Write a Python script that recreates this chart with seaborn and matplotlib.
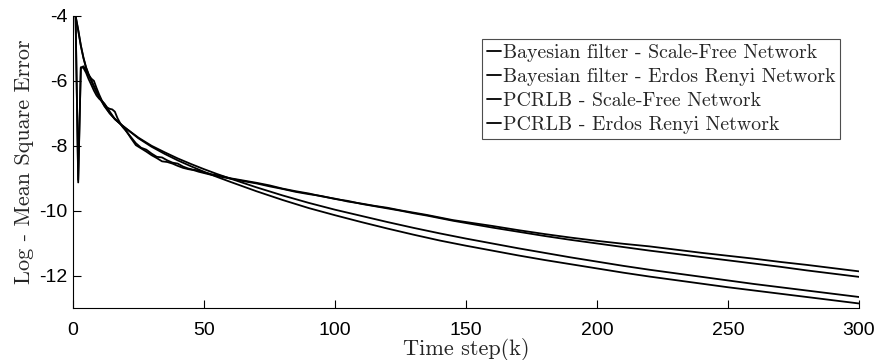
import pandas as pd
import seaborn as sns
import matplotlib.pyplot as plt

steps_bayes = [1, 2, 3, 4, 5, 6, 7, 8, 9, 10, 11, 12, 13, 14, 15, 16, 17, 18, 19, 20,
               22, 24, 26, 28, 30, 32, 34, 36, 38, 40, 42, 44, 46, 48, 50, 53, 56, 60,
               65, 70, 75, 80, 85, 90, 95, 100, 105, 110, 115, 120, 125, 130, 135, 140,
               145, 150, 160, 170, 180, 190, 200, 210, 220, 230, 240, 250, 260, 270,
               280, 290, 300]
steps_pcrlb = [1, 2, 3, 4, 5, 6, 7, 8, 9, 10, 12, 14, 16, 18, 20, 25, 30, 35, 40, 45,
               50, 55, 60, 70, 80, 90, 100, 110, 120, 130, 140, 150, 160, 170, 180,
               190, 200, 210, 220, 230, 240, 250, 260, 270, 280, 290, 300]

bayes_sf = [-4.0, -9.13, -5.6, -5.55, -5.68, -5.82, -5.93, -6.0, -6.22, -6.42, -6.6,
            -6.72, -6.82, -6.86, -6.88, -6.95, -7.15, -7.3, -7.42, -7.52,
            -7.72, -7.92, -8.06, -8.12, -8.24, -8.34, -8.36, -8.45, -8.52, -8.55,
            -8.64, -8.70, -8.74, -8.76, -8.82, -8.88, -8.92, -9.00,
            -9.07, -9.14, -9.22, -9.32, -9.40, -9.47, -9.56, -9.63, -9.72, -9.78,
            -9.85, -9.91, -9.99, -10.06, -10.13, -10.21,
            -10.29, -10.35, -10.47, -10.60, -10.72, -10.83, -10.93, -11.02, -11.10,
            -11.20, -11.30, -11.39, -11.48, -11.58, -11.67, -11.77, -11.87]
bayes_er = [-4.0, -9.05, -5.58, -5.6, -5.75, -5.95, -6.12, -6.3, -6.45, -6.55, -6.62,
            -6.7, -6.82, -6.94, -7.06, -7.18, -7.25, -7.32, -7.42, -7.50,
            -7.75, -7.98, -8.08, -8.18, -8.29, -8.38, -8.48, -8.50, -8.55, -8.62,
            -8.68, -8.72, -8.75, -8.80, -8.84, -8.90, -8.95, -9.01,
            -9.09, -9.16, -9.25, -9.33, -9.42, -9.49, -9.55, -9.64, -9.70, -9.79,
            -9.86, -9.93, -10.00, -10.08, -10.15, -10.23,
            -10.31, -10.38, -10.52, -10.65, -10.78, -10.90, -11.01, -11.12, -11.23,
            -11.33, -11.43, -11.53, -11.63, -11.73, -11.84, -11.94, -12.04]
pcrlb_sf = [-4.0, -4.45, -4.92, -5.3, -5.6, -5.82, -6.0, -6.18, -6.35, -6.5, -6.78,
            -7.0, -7.18, -7.32, -7.45, -7.75, -8.0, -8.2, -8.39, -8.56,
            -8.72, -8.87, -9.01, -9.28, -9.53, -9.76, -9.97, -10.16, -10.35, -10.53,
            -10.70, -10.86, -11.01, -11.16, -11.30, -11.44, -11.57, -11.70, -11.82,
            -11.93, -12.04, -12.15, -12.26, -12.36, -12.46, -12.56, -12.66]
pcrlb_er = [-4.0, -4.42, -4.9, -5.28, -5.58, -5.8, -5.98, -6.16, -6.33, -6.48, -6.76,
            -6.99, -7.17, -7.32, -7.45, -7.77, -8.03, -8.25, -8.45, -8.63,
            -8.80, -8.96, -9.11, -9.40, -9.67, -9.92, -10.14, -10.35, -10.55, -10.74,
            -10.92, -11.08, -11.23, -11.38, -11.52, -11.65, -11.78, -11.91, -12.03,
            -12.14, -12.25, -12.36, -12.46, -12.56, -12.66, -12.76, -12.86]

labels = ["Bayesian filter - Scale-Free Network",
          "Bayesian filter - Erdos Renyi Network",
          "PCRLB - Scale-Free Network",
          "PCRLB - Erdos Renyi Network"]

sns.set_theme(style="ticks")
plt.rcParams['font.family'] = ['Liberation Sans', 'DejaVu Sans']
plt.rcParams['axes.unicode_minus'] = False

fig = plt.figure(figsize=(8.78, 3.6), dpi=100)
ax = fig.add_axes([0.0831, 0.1444, 0.8952, 0.8112])

series = [(steps_bayes, bayes_sf), (steps_bayes, bayes_er),
          (steps_pcrlb, pcrlb_sf), (steps_pcrlb, pcrlb_er)]
for (k, y), lab in zip(series, labels):
    sns.lineplot(x=k, y=y, ax=ax, color="black", linewidth=1.3, label=lab,
                 estimator=None)

ax.set_xlim(0, 300)
ax.set_ylim(-13, -4)
ax.set_xticks([0, 50, 100, 150, 200, 250, 300])
ax.set_yticks([-12, -10, -8, -6, -4])
ax.tick_params(direction="in", length=6, width=0.8, labelsize=14, colors="black")
ax.tick_params(axis="x", pad=10)
ax.tick_params(axis="y", pad=4)
sns.despine(ax=ax)
for s in ["left", "bottom"]:
    ax.spines[s].set_linewidth(0.8)
    ax.spines[s].set_color("black")

ax.set_xlabel("Time step(k)", family="cmr10", fontsize=16, labelpad=-1)
ax.set_ylabel("Log - Mean Square Error", family="cmr10", fontsize=16, labelpad=4)

leg = ax.legend(loc="upper left", bbox_to_anchor=(0.52, 0.921),
                prop={"family": "cmr10", "size": 14.3},
                handlelength=0.7, handletextpad=0.1, borderpad=0.25,
                labelspacing=0.3, borderaxespad=0, fancybox=False,
                framealpha=1, edgecolor="0.3")
leg.get_frame().set_linewidth(0.8)

fig.savefig("out.png", dpi=100)
